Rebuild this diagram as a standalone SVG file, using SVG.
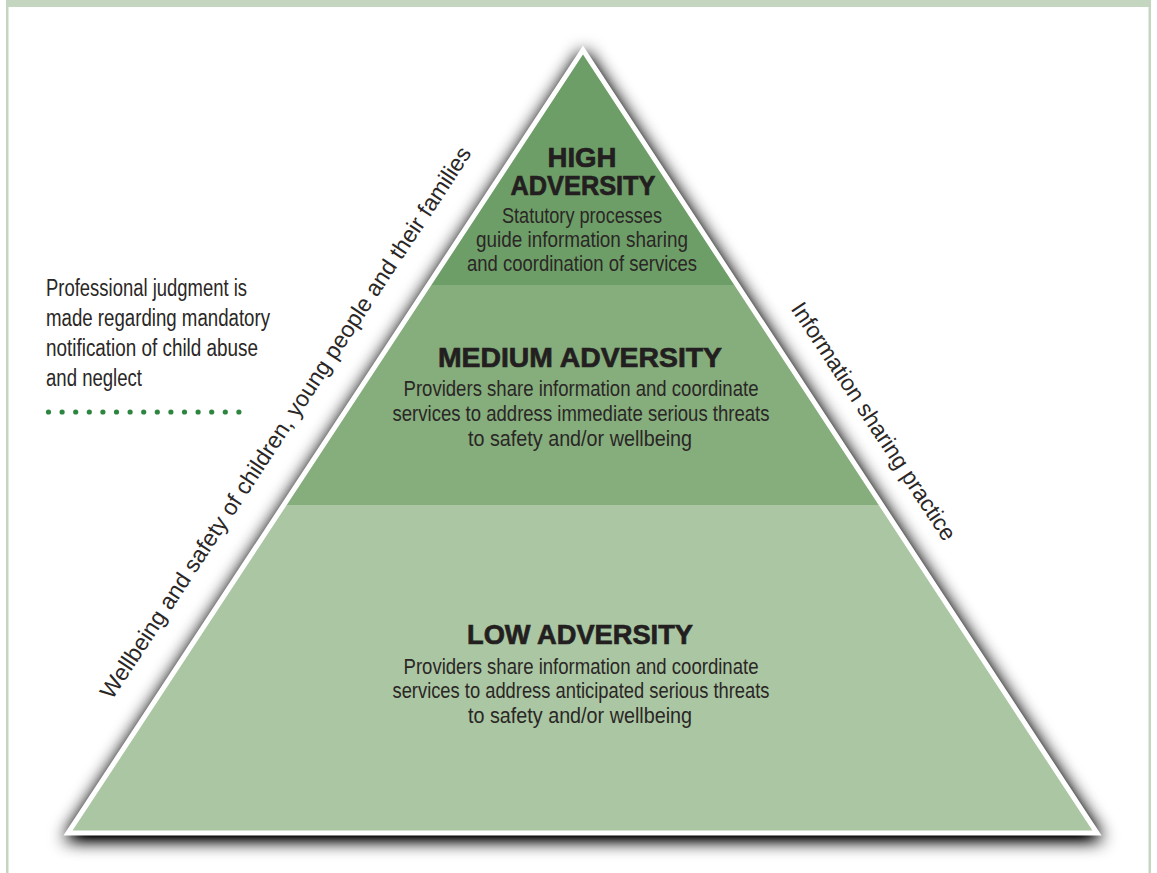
<svg xmlns="http://www.w3.org/2000/svg" width="1157" height="873" viewBox="0 0 1157 873">
  <style>
    .title { font-family: "Liberation Sans", Arial, sans-serif; font-weight: 900; font-size: 28px; fill: #231f20; stroke: #231f20; stroke-width: 0.7px; text-anchor: middle; }
    .body { font-family: "Liberation Sans Narrow", "Liberation Sans", Arial, sans-serif; font-size: 22px; fill: #2a2726; text-anchor: middle; }
    .note { font-family: "Liberation Sans Narrow", "Liberation Sans", Arial, sans-serif; font-size: 23px; fill: #2a2726; }
    .side { font-family: "Liberation Sans Narrow", "Liberation Sans", Arial, sans-serif; font-size: 23px; fill: #2a2726; }
    .frame { fill: #c5d6c0; }
    .dot { fill: #2e8540; }
  </style>
  <defs>
    <clipPath id="triClip">
      <polygon points="583,50 68,833 1097,833"/>
    </clipPath>
    <filter id="shadow" x="-10%" y="-10%" width="120%" height="125%">
      <feGaussianBlur in="SourceAlpha" stdDeviation="9"/>
      <feOffset dx="1" dy="4" result="blur"/>
      <feComponentTransfer>
        <feFuncA type="linear" slope="1.4"/>
      </feComponentTransfer>
    </filter>
  </defs>

  <rect width="1157" height="873" fill="#ffffff"/>

  <!-- page frame -->
  <g id="frame">
    <rect class="frame" x="6" y="0" width="1145" height="7"/>
    <rect class="frame" x="6" y="0" width="2.5" height="873"/>
    <rect class="frame" x="1148.5" y="0" width="2.5" height="873"/>
  </g>

  <!-- pyramid -->
  <g id="pyramid">
    <polygon points="583,46 63,836 1102,836" fill="#2a2a2a" filter="url(#shadow)"/>
    <g clip-path="url(#triClip)">
      <rect x="0" y="0" width="1157" height="285" fill="#6e9e67"/>
      <rect x="0" y="285" width="1157" height="220" fill="#86ad7c"/>
      <rect x="0" y="505" width="1157" height="340" fill="#abc6a2"/>
    </g>
    <polygon points="583,50 68,833 1097,833" fill="none" stroke="#ffffff" stroke-width="5" stroke-linejoin="miter"/>
  </g>

  <g id="high">
    <text class="title" x="582" y="167" textLength="69" lengthAdjust="spacingAndGlyphs">HIGH</text>
    <text class="title" x="583" y="195" textLength="145" lengthAdjust="spacingAndGlyphs">ADVERSITY</text>
    <text class="body" x="582" y="223" textLength="160" lengthAdjust="spacingAndGlyphs">Statutory processes</text>
    <text class="body" x="582" y="247" textLength="212" lengthAdjust="spacingAndGlyphs">guide information sharing</text>
    <text class="body" x="582" y="271" textLength="230" lengthAdjust="spacingAndGlyphs">and coordination of services</text>
  </g>

  <g id="medium">
    <text class="title" x="580" y="367" textLength="284" lengthAdjust="spacingAndGlyphs">MEDIUM ADVERSITY</text>
    <text class="body" x="581" y="396" textLength="355" lengthAdjust="spacingAndGlyphs">Providers share information and coordinate</text>
    <text class="body" x="581" y="421" textLength="377" lengthAdjust="spacingAndGlyphs">services to address immediate serious threats</text>
    <text class="body" x="580" y="446" textLength="224" lengthAdjust="spacingAndGlyphs">to safety and/or wellbeing</text>
  </g>

  <g id="low">
    <text class="title" x="580" y="644" textLength="226" lengthAdjust="spacingAndGlyphs">LOW ADVERSITY</text>
    <text class="body" x="581" y="674" textLength="355" lengthAdjust="spacingAndGlyphs">Providers share information and coordinate</text>
    <text class="body" x="581" y="698" textLength="377" lengthAdjust="spacingAndGlyphs">services to address anticipated serious threats</text>
    <text class="body" x="580" y="723" textLength="224" lengthAdjust="spacingAndGlyphs">to safety and/or wellbeing</text>
  </g>

  <!-- labels running along the pyramid sides -->
  <g id="left-side">
    <text class="side" transform="translate(68,833) rotate(-56.66)" x="135" y="-36" textLength="655" lengthAdjust="spacingAndGlyphs">Wellbeing and safety of children, young people and their families</text>
  </g>
  <g id="right-side">
    <text class="side" transform="translate(583,50) rotate(56.66)" x="330" y="-31" textLength="280" lengthAdjust="spacingAndGlyphs">Information sharing practice</text>
  </g>

  <g id="note">
    <text class="note" x="46" y="296" textLength="201" lengthAdjust="spacingAndGlyphs">Professional judgment is</text>
    <text class="note" x="46" y="326" textLength="224" lengthAdjust="spacingAndGlyphs">made regarding mandatory</text>
    <text class="note" x="46" y="356" textLength="212" lengthAdjust="spacingAndGlyphs">notification of child abuse</text>
    <text class="note" x="46" y="386" textLength="96" lengthAdjust="spacingAndGlyphs">and neglect</text>
    <g id="dots">
      <circle class="dot" cx="48.5" cy="412" r="2.6"/>
      <circle class="dot" cx="62.1" cy="412" r="2.6"/>
      <circle class="dot" cx="75.7" cy="412" r="2.6"/>
      <circle class="dot" cx="89.3" cy="412" r="2.6"/>
      <circle class="dot" cx="102.9" cy="412" r="2.6"/>
      <circle class="dot" cx="116.5" cy="412" r="2.6"/>
      <circle class="dot" cx="130.1" cy="412" r="2.6"/>
      <circle class="dot" cx="143.7" cy="412" r="2.6"/>
      <circle class="dot" cx="157.3" cy="412" r="2.6"/>
      <circle class="dot" cx="170.9" cy="412" r="2.6"/>
      <circle class="dot" cx="184.5" cy="412" r="2.6"/>
      <circle class="dot" cx="198.1" cy="412" r="2.6"/>
      <circle class="dot" cx="211.7" cy="412" r="2.6"/>
      <circle class="dot" cx="225.3" cy="412" r="2.6"/>
      <circle class="dot" cx="238.9" cy="412" r="2.6"/>
    </g>
  </g>
</svg>
